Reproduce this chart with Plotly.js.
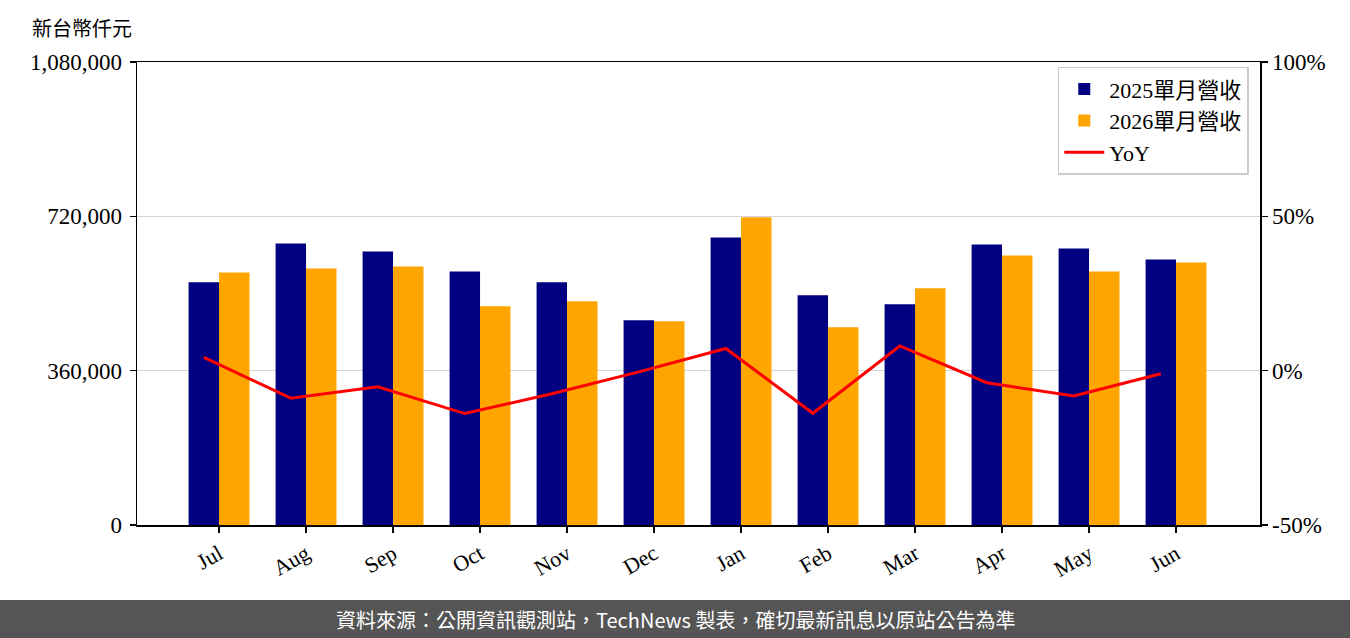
<!DOCTYPE html>
<html>
<head>
<meta charset="utf-8">
<script src="https://cdn.plot.ly/plotly-3.0.1.min.js"></script>
<style>html,body{margin:0;padding:0;background:#fff;}#chart{width:1350px;height:638px;}</style>
</head>
<body>
<div id="chart"></div>
<script>
const months = ["Jul","Aug","Sep","Oct","Nov","Dec","Jan","Feb","Mar","Apr","May","Jun"];
const rev2025 = [566000, 656600, 638000, 591600, 566000, 477800, 670500, 535800, 514900, 654300, 645000, 619400];
const rev2026 = [589200, 598500, 603200, 510300, 521900, 475400, 717700, 461500, 552100, 628700, 591600, 612500];
const yoy = [4.3, -8.9, -5.2, -13.9, -7.5, -0.4, 7.2, -13.8, 8.0, -3.9, -8.2, -1.0];
const seriesNames = ["2025單月營收", "2026單月營收", "YoY"];
const leftTicks = [0, 360000, 720000, 1080000];
const rightTicks = [-50, 0, 50, 100];

const serif = "Liberation Serif, Noto Sans CJK TC, serif";
const idx = months.map((m, i) => i);
const barW = 0.35;

const traces = [
  {type: "bar", name: seriesNames[0], x: idx, y: rev2025, marker: {color: "#000080"}, width: barW, offset: -barW, hoverinfo: "skip"},
  {type: "bar", name: seriesNames[1], x: idx, y: rev2026, marker: {color: "#FFA500"}, width: barW, offset: 0, hoverinfo: "skip"},
  {type: "scatter", mode: "lines", name: seriesNames[2], x: idx.map(i => i - barW / 2), y: yoy, yaxis: "y2",
   line: {color: "#FF0000", width: 3}, hoverinfo: "skip"}
];

const layout = {
  width: 1350, height: 638,
  margin: {l: 137, r: 90, t: 62, b: 113},
  paper_bgcolor: "#fff", plot_bgcolor: "#fff",
  barmode: "overlay",
  showlegend: true,
  font: {family: serif, color: "#000", size: 20},
  xaxis: {
    range: [-0.943, 11.965],
    tickvals: idx, ticktext: months, tickangle: -30,
    ticks: "outside", ticklen: 6, tickwidth: 1.5, tickcolor: "#000",
    showline: true, linecolor: "#000", linewidth: 1.5, mirror: true,
    showgrid: false, zeroline: false,
    tickfont: {family: serif, size: 22, color: "#000"}
  },
  yaxis: {
    range: [0, 1080000],
    tickvals: leftTicks, tickformat: ",d",
    ticks: "outside", ticklen: 6, tickwidth: 1.5, tickcolor: "#000",
    ticklabelstandoff: 3,
    showline: true, linecolor: "#000", linewidth: 1.5,
    showgrid: true, gridcolor: "#d6d6d6", gridwidth: 1.5, zeroline: false,
    tickfont: {family: serif, size: 23, color: "#000"}
  },
  yaxis2: {
    overlaying: "y", side: "right",
    range: [-50, 100],
    tickvals: rightTicks, ticktext: rightTicks.map(v => v + "%"),
    ticks: "outside", ticklen: 6, tickwidth: 1.5, tickcolor: "#000",
    showline: true, linecolor: "#000", linewidth: 1.5,
    showgrid: false, zeroline: false,
    tickfont: {family: serif, size: 23, color: "#000"}
  },
  legend: {
    x: 0.99, y: 0.99, xanchor: "right", yanchor: "top",
    bgcolor: "rgba(255,255,255,0.8)", bordercolor: "#cccccc", borderwidth: 1.5,
    font: {family: serif, size: 22, color: "#000"},
    itemwidth: 40
  },
  shapes: [
    {type: "rect", xref: "paper", yref: "paper", x0: -0.13, x1: 1.09, y0: -0.25, y1: -0.162,
     fillcolor: "#555555", line: {width: 0}, layer: "below"}
  ],
  annotations: [
    {text: "新台幣仟元", xref: "paper", yref: "paper", x: -0.095, y: 1.075, xanchor: "left", yanchor: "middle",
     showarrow: false, font: {family: "Noto Sans CJK TC, sans-serif", size: 20, color: "#000"}},
    {text: "資料來源：公開資訊觀測站，TechNews 製表，確切最新訊息以原站公告為準", xref: "paper", yref: "paper",
     x: (675 - 137) / 1123, y: -(619 - 525) / 463, xanchor: "center", yanchor: "middle", showarrow: false,
     font: {family: "Noto Sans CJK TC, sans-serif", size: 20, color: "#ffffff"}}
  ]
};

Plotly.newPlot("chart", traces, layout, {displayModeBar: false, staticPlot: true});
</script>
</body>
</html>
